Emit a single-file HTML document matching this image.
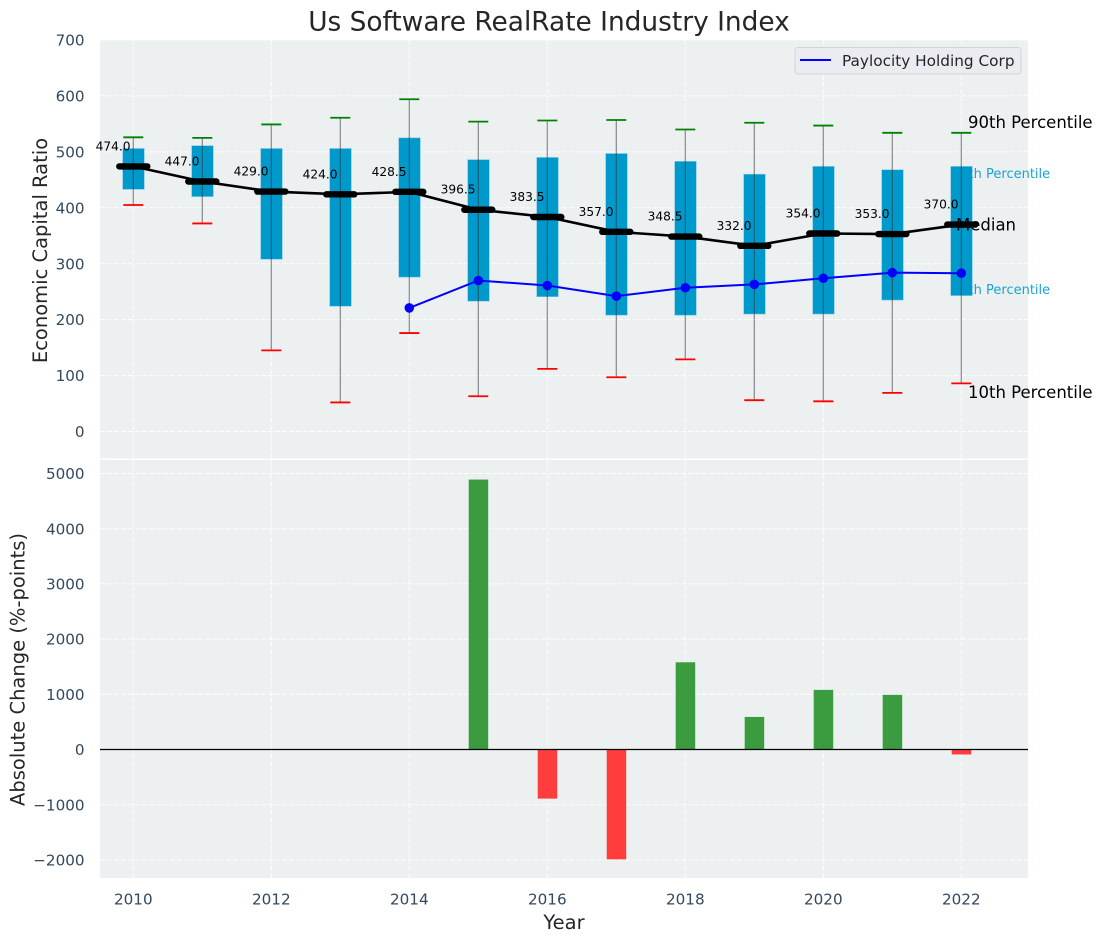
<!DOCTYPE html>
<html>
<head>
<meta charset="utf-8">
<title>Us Software RealRate Industry Index</title>
<style>
html,body{margin:0;padding:0;background:#fff;}
svg{display:block;font-family:"DejaVu Sans","Liberation Sans",sans-serif;}
</style>
</head>
<body>
<svg id="chart" xmlns="http://www.w3.org/2000/svg" width="1103" height="942" viewBox="0 0 1103 942"></svg>
<script>
const years = [2010,2011,2012,2013,2014,2015,2016,2017,2018,2019,2020,2021,2022];
const p90 = [526,525,549,561,594,554,556,557,540,552,547,534,534];
const p75 = [506,511,506,506,525,486,490,497,483,460,474,468,474];
const medians = [474,447,429,424,428.5,396.5,383.5,357,348.5,332,354,353,370];
const p25 = [433,420,308,224,276,233,241,208,208,210,210,235,243];
const p10 = [405,372,145,52,176,63,112,97,129,56,54,69,86];
const companyYears = [2014,2015,2016,2017,2018,2019,2020,2021,2022];
const companyValues = [221,270,261,242,257,263,274,284,283];
const changeYears = [2015,2016,2017,2018,2019,2020,2021,2022];
const changeValues = [4890,-890,-1990,1580,590,1080,990,-90];
const xTicks = [2010,2012,2014,2016,2018,2020,2022];
const topTicks = [0,100,200,300,400,500,600,700];
const bottomTicks = [-2000,-1000,0,1000,2000,3000,4000,5000];

const svg = document.getElementById('chart');
const NS = 'http://www.w3.org/2000/svg';
const x = v => 133.3 + (v - 2010) * 69;
const yTop = v => 431.5 - v * 0.5593;
const yBottom = v => 749.5 - v * 0.0552;

function make(tag, attrs, text) {
  const el = document.createElementNS(NS, tag);
  for (const k in attrs) el.setAttribute(k, attrs[k]);
  if (text !== undefined) el.textContent = text;
  svg.appendChild(el);
  return el;
}
function fmt(v) { return v < 0 ? '\u2212' + Math.abs(v) : String(v); }

let el;
el = make('rect', {x:100, y:40, width:928, height:418.4, fill:'#ecf0f1'});


el = make('rect', {x:100, y:460, width:928, height:418, fill:'#ecf0f1'});



xTicks.forEach(t => {
  el = make('line', {x1:x(t), x2:x(t), y1:40, y2:458.4, stroke:'#fff', 'stroke-width':1, 'stroke-dasharray':'5 2', 'stroke-opacity':0.85});
  
  
  el = make('line', {x1:x(t), x2:x(t), y1:460, y2:878, stroke:'#fff', 'stroke-width':1, 'stroke-dasharray':'5 2', 'stroke-opacity':0.85});
  
  
  el = make('text', {x:x(t), y:904.5, 'text-anchor':'middle', 'font-size':15.2, fill:'#34495e'}, String(t));
  
  
});
topTicks.forEach(t => {
  el = make('line', {x1:100, x2:1028, y1:yTop(t), y2:yTop(t), stroke:'#fff', 'stroke-width':1, 'stroke-dasharray':'5 2', 'stroke-opacity':0.85});
  
  
  el = make('text', {x:84.6, y:yTop(t) + 5.6, 'text-anchor':'end', 'font-size':15.2, fill:'#34495e'}, fmt(t));
  
  
});
bottomTicks.forEach(t => {
  el = make('line', {x1:100, x2:1028, y1:yBottom(t), y2:yBottom(t), stroke:'#fff', 'stroke-width':1, 'stroke-dasharray':'5 2', 'stroke-opacity':0.85});
  
  
  el = make('text', {x:84.6, y:yBottom(t) + 5.6, 'text-anchor':'end', 'font-size':15.2, fill:'#34495e'}, fmt(t));
  
  
});

const last = years.length - 1;
el = make('text', {x:952, y:yTop(p75[last]) + 11.6, 'font-size':13, fill:'#1ba3d1'}, '75th Percentile');


el = make('text', {x:952, y:yTop(p25[last]) - 1.6, 'font-size':13, fill:'#1ba3d1'}, '25th Percentile');



years.forEach((yr, i) => {
  el = make('rect', {x:x(yr) - 10.6, y:yTop(p75[i]), width:21.6, height:yTop(p25[i]) - yTop(p75[i]), fill:'#0099cc', stroke:'#7cc8e2', 'stroke-width':0.6});
  
  
});
years.forEach((yr, i) => {
  el = make('line', {x1:x(yr), x2:x(yr), y1:yTop(p90[i]), y2:yTop(p10[i]), stroke:'#333', 'stroke-opacity':0.55, 'stroke-width':1.2});
  
  
  el = make('line', {x1:x(yr) - 10, x2:x(yr) + 10, y1:yTop(p90[i]), y2:yTop(p90[i]), stroke:'#008000', 'stroke-width':1.8});
  
  
  el = make('line', {x1:x(yr) - 10, x2:x(yr) + 10, y1:yTop(p10[i]), y2:yTop(p10[i]), stroke:'#ff0000', 'stroke-width':1.8});
  
  
});

el = make('polyline', {points:years.map((yr, i) => x(yr) + ',' + yTop(medians[i])).join(' '), fill:'none', stroke:'#000', 'stroke-width':2.6});


years.forEach((yr, i) => {
  el = make('line', {x1:x(yr) - 14, x2:x(yr) + 14, y1:yTop(medians[i]), y2:yTop(medians[i]), stroke:'#000', 'stroke-width':6.4, 'stroke-linecap':'round'});
  
  
  el = make('text', {x:x(yr) - 20.2, y:yTop(medians[i]) - 16, 'text-anchor':'middle', 'font-size':12.2, fill:'#000'}, medians[i].toFixed(1));
  
  
});

el = make('polyline', {points:companyYears.map((yr, i) => x(yr) + ',' + yTop(companyValues[i])).join(' '), fill:'none', stroke:'#0000ff', 'stroke-width':2});


companyYears.forEach((yr, i) => {
  el = make('circle', {cx:x(yr), cy:yTop(companyValues[i]), r:4.8, fill:'#0000ff'});
  
  
});

el = make('text', {x:968, y:128, 'font-size':16.5, fill:'#000'}, '90th Percentile');


el = make('text', {x:956, y:230.5, 'font-size':16.5, fill:'#000'}, 'Median');


el = make('text', {x:968, y:398, 'font-size':16.5, fill:'#000'}, '10th Percentile');



changeYears.forEach((yr, i) => {
  const v = changeValues[i];
  el = make('rect', {x:x(yr) - 9.6, y:Math.min(yBottom(v), yBottom(0)), width:19.5, height:Math.abs(yBottom(v) - yBottom(0)), fill:v >= 0 ? '#3a9c3f' : '#ff3d3d'});
  
  
});
el = make('line', {x1:100, x2:1028, y1:yBottom(0), y2:yBottom(0), stroke:'#000', 'stroke-width':1.2});



el = make('rect', {x:795, y:47.5, width:226, height:26.5, rx:3, fill:'#ebecf1', stroke:'#d2d4d8', 'stroke-width':1});


el = make('line', {x1:800, x2:831, y1:60, y2:60, stroke:'#0000ff', 'stroke-width':2});


el = make('text', {x:842, y:66, 'font-size':15.3, fill:'#262626'}, 'Paylocity Holding Corp');



el = make('text', {x:549, y:30.5, 'text-anchor':'middle', 'font-size':26.4, fill:'#262626'}, 'Us Software RealRate Industry Index');


el = make('text', {x:564, y:929, 'text-anchor':'middle', 'font-size':19.5, fill:'#262626'}, 'Year');


el = make('text', {transform:'translate(47,250.5) rotate(-90)', 'text-anchor':'middle', 'font-size':19.5, fill:'#262626'}, 'Economic Capital Ratio');


el = make('text', {transform:'translate(24.5,669.5) rotate(-90)', 'text-anchor':'middle', 'font-size':19.5, fill:'#262626'}, 'Absolute Change (%-points)');


</script>
</body>
</html>
